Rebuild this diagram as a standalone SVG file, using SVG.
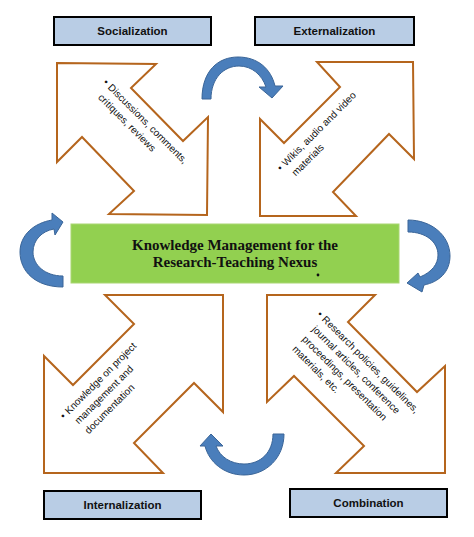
<svg xmlns="http://www.w3.org/2000/svg" width="474" height="537" viewBox="0 0 474 537">
<style>
.lbl{fill:#b9cde5;stroke:#000;stroke-width:2}
.lt{font-family:"Liberation Sans",Arial,sans-serif;font-weight:bold;font-size:11.5px;fill:#111;text-anchor:middle}
.dbl{fill:#fff;stroke:#b5651d;stroke-width:2;stroke-linejoin:miter}
.note{font-family:"Liberation Sans",Arial,sans-serif;font-size:10px;fill:#111}
.cyc{fill:#4a7ebb;stroke:#3a6598;stroke-width:1}
.title{font-family:"Liberation Serif","Times New Roman",serif;font-weight:bold;font-size:15px;fill:#111;text-anchor:middle}
</style>
<rect width="474" height="537" fill="#fff"/>

<g id="socialization">
<rect class="lbl" x="54" y="17" width="157" height="28"/>
<text class="lt" x="132.5" y="35">Socialization</text>
</g>
<g id="externalization">
<rect class="lbl" x="255" y="17" width="159" height="28"/>
<text class="lt" x="334.5" y="35">Externalization</text>
</g>
<g id="internalization">
<rect class="lbl" x="44" y="491" width="157" height="28"/>
<text class="lt" x="122.5" y="509">Internalization</text>
</g>
<g id="combination">
<rect class="lbl" x="290" y="489" width="157" height="28"/>
<text class="lt" x="368.5" y="507">Combination</text>
</g>

<g id="arrow-socialization">
<polygon class="dbl" points="57,63 156,64 131,88 183,141 208,117 207,215 109,214 134,191 82,137 57,162"/>
<text class="note" transform="translate(102.4,83.1) rotate(45)"><tspan x="0" y="0">•</tspan><tspan x="7" y="0">Discussions, comments,</tspan><tspan x="7" y="14">critiques, reviews</tspan></text>
</g>
<g id="arrow-externalization">
<polygon class="dbl" points="317,62 413,62 414,159 389,134 333,192 356,216 260,216 260,119 284,143 340,87"/>
<text class="note" transform="translate(281,171.6) rotate(-45)"><tspan x="0" y="0">•</tspan><tspan x="7" y="0">Wikis, audio and video</tspan><tspan x="7" y="14">materials</tspan></text>
</g>
<g id="arrow-internalization">
<polygon class="dbl" points="105,295 223,295 223,412 194,383 134,443 163,473 44,473 44,356 73,385 134,324"/>
<text class="note" transform="translate(64,419.6) rotate(-45)"><tspan x="0" y="0">•</tspan><tspan x="7" y="0">Knowledge on project</tspan><tspan x="7" y="14">management and</tspan><tspan x="7" y="28">documentation</tspan></text>
</g>
<g id="arrow-combination">
<polygon class="dbl" points="267,295 375,295 348,322 417,392 445,366 445,473 336,473 364,446 294,376 267,402"/>
<text class="note" transform="translate(316.4,315.1) rotate(45)"><tspan x="0" y="0">•</tspan><tspan x="7" y="0">Research policies, guidelines,</tspan><tspan x="7" y="14">journal articles, conference</tspan><tspan x="7" y="28">proceedings, presentation</tspan><tspan x="7" y="42">materials, etc.</tspan></text>
</g>

<g id="center">
<rect x="71" y="224" width="328" height="59" fill="#92d050" stroke="#a9d672" stroke-width="1"/>
<text class="title" x="235" y="250">Knowledge Management for the</text>
<text class="title" x="235" y="266.5">Research-Teaching Nexus</text>
<circle cx="318" cy="275" r="1.4" fill="#111"/>
</g>

<g id="connectors">
<path class="cyc" d="M202,99 C202,71 218,57 238,57 C258,57 271,69 275,86 L283,86 L272,98 L259,87 L266,87 C262,75 252,66 239,66 C224,66 211,78 211,99 Z"/>
<path class="cyc" d="M63,287 C35,287 20,271 20,252 C20,235 34,223 52,220 L52,213 L63,222 L55,235 L54,229 C42,231 33,240 33,252 C33,265 45,276 63,276 Z"/>
<path class="cyc" d="M408,220 C432,220 450,236 450,256 C450,272 439,282 424,285 L422,292 L407,283 L418,273 L420,277 C432,272 438,264 438,255 C438,242 426,232 408,232 Z"/>
<path class="cyc" d="M284,434 C284,458 266,475 244,475 C224,475 209,462 205,446 L200,446 L211,434 L223,446 L216,446 C220,457 231,464 244,464 C261,464 273,452 273,434 Z"/>
</g>
</svg>
